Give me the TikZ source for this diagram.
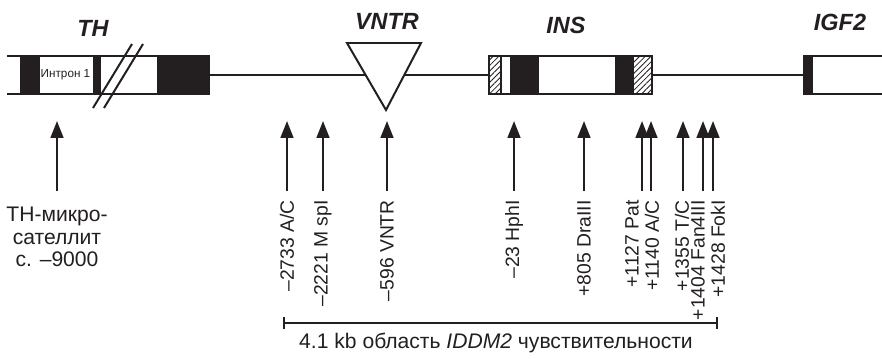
\documentclass[tikz,border=0pt]{standalone}
\usepackage{fontspec}
\setmainfont{Liberation Sans}
\usetikzlibrary{arrows.meta,patterns.meta}
\definecolor{genedark}{HTML}{231F20}
\tikzset{
  >=Latex,
  geneline/.style={draw=genedark, line width=1.7pt},
  exon/.style={draw=genedark, fill=genedark, line width=1.7pt},
  hatched/.style={draw=genedark, line width=1.7pt, fill=white,
    pattern={Lines[angle=45,distance=3.4pt,line width=0.7pt]}, pattern color=genedark},
  genetitle/.style={font=\fontsize{20}{22}\selectfont\bfseries\itshape, text=genedark},
  intronlabel/.style={font=\fontsize{10}{12}\selectfont, text=genedark, inner sep=0pt},
  marker/.style={-{Triangle[length=14.5pt,width=11pt]}, line width=1.7pt, draw=genedark},
  marklabel/.style={rotate=90, anchor=east, inner sep=0pt,
    font=\fontsize{16.5}{19}\selectfont, text=genedark},
  note/.style={font=\fontsize{18}{19}\selectfont, text=genedark, align=center},
  region/.style={{Bar[width=10pt]}-{Bar[width=10pt]}, line width=2pt, draw=genedark}
}
\newcommand{\snpmark}[4]{
  \coordinate (#1tip) at (#2,121);
  \coordinate (#1tail) at (#2,191);
  \draw[marker] (#1tail) -- (#1tip);
  \node[marklabel] (#1) at (#3,200) {#4};
}

\begin{document}
\begin{tikzpicture}[x=0.03cm,y=-0.03cm]
\useasboundingbox (0,0) rectangle (882,358);
% backbone
\draw[geneline] (209,75) -- (489,75);
\draw[geneline] (652,75) -- (804,75);
% TH
\draw[geneline] (7,56) -- (158,56);
\draw[geneline] (7,94) -- (158,94);
\draw[exon] (21,56) rectangle (39,94);
\draw[exon] (94,56) rectangle (100,94);
\draw[exon] (158,56) rectangle (209,94);
\node[intronlabel] (intron) at (65.5,75) {Интрон 1};
\draw[geneline] (93,108) -- (132,44);
\draw[geneline] (104,108) -- (143,44);
\node[genetitle] (th) at (93,28) {TH};
% VNTR
\draw[geneline, fill=white] (347,43) -- (421,43) -- (386,110) -- cycle;
\node[genetitle] (vntr) at (387,21) {VNTR};
% INS
\draw[geneline, fill=white] (489,56) rectangle (652,94);
\draw[hatched] (489,56) rectangle (501,94);
\draw[exon] (511,56) rectangle (538,94);
\draw[exon] (616,56) rectangle (633,94);
\draw[hatched] (633,56) rectangle (652,94);
\node[genetitle] (ins) at (566,25) {INS};
% IGF2
\draw[exon] (804,56) rectangle (812,94);
\draw[geneline] (812,56) -- (882,56);
\draw[geneline] (812,94) -- (882,94);
\node[genetitle] (igf) at (840,22) {IGF2};
% markers
\coordinate (msattip) at (57,121);
\coordinate (msattail) at (57,191);
\draw[marker] (msattail) -- (msattip);
\node[note] (msat) at (57,237) {TH-микро-\\сателлит\\с. –9000};
\snpmark{ac}{287}{287}{–2733 A/C}
\snpmark{mspi}{323}{323}{–2221 M spI}
\snpmark{vntrsite}{387}{387}{–596 VNTR}
\snpmark{hphi}{514}{514}{–23 HphI}
\snpmark{draiii}{584}{584}{+805 DraIII}
\snpmark{pat}{642}{632}{+1127 Pat}
\snpmark{acb}{651}{652}{+1140 A/C}
\snpmark{tc}{683}{682}{+1355 T/C}
\snpmark{fan}{703}{698}{+1404 Fan4III}
\snpmark{foki}{713}{718}{+1428 FokI}
% region
\coordinate (regl) at (283,323);
\coordinate (regr) at (718,323);
\draw[region] (regl) -- (regr);
\node[note] (regtext) at (496,343) {4.1 kb область \textit{IDDM2} чувствительности};
\end{tikzpicture}
\end{document}
